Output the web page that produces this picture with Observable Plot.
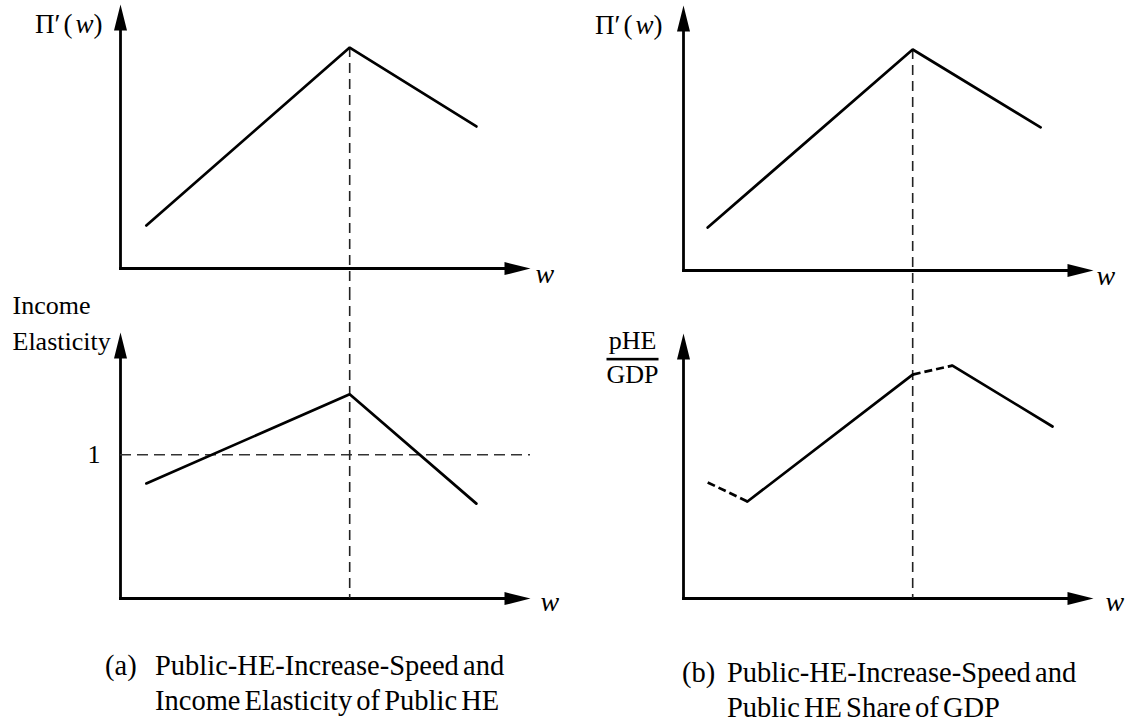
<!DOCTYPE html>
<html>
<head>
<meta charset="utf-8">
<script src="https://cdn.jsdelivr.net/npm/d3@7"></script>
<script src="https://cdn.jsdelivr.net/npm/@observablehq/plot@0.6"></script>
<style>
  html, body { margin: 0; padding: 0; background: #fff; }
  #fig { position: relative; width: 1128px; height: 724px; overflow: hidden;
         font-family: "Liberation Serif", "Times New Roman", serif; color: #000; }
  .panel { position: absolute; }
  .panel svg { overflow: visible; }
  .cap { position: absolute; font-size: 28.5px; line-height: 35px; word-spacing: -3px; white-space: nowrap; }
  .cap .tag { position: absolute; left: 0; top: 0; }
  .cap .body { position: absolute; top: 0; }
</style>
</head>
<body>
<div id="fig"></div>
<script>
// ---------------- DATA (schematic values) ----------------
const wMax = 10;                       // w axis runs 0..10 (arrow tip)
// (a) top: Π'(w)
const piA_w = [0.63, 5.59, 8.68];
const piA_v = [1.63, 8.37, 5.38];
// (b) top: Π'(w)
const piB_w = [0.59, 5.59, 8.71];
const piB_v = [1.62, 8.34, 5.40];
const piTop = 10;
// (a) bottom: income elasticity
const elastW = [0.63, 5.59, 8.68];
const elastV = [0.80, 1.42, 0.66];
const elastRef = 1;
const elastTop = 1.85;
const elastTickLabels = ["1"];
// (b) bottom: public HE share of GDP
const shareW = [0.59, 1.56, 5.59, 6.56, 9.00];
const shareV = [4.38, 3.66, 8.45, 8.79, 6.49];
const shareSeg = ["dashed", "solid", "dashed", "solid"];
const shareTop = 10;
// texts
const yLabelPi = "Π′(w)";
const xLabel = "w";
const yLabelElast = ["Income", "Elasticity"];
const yLabelShare = ["pHE", "GDP"];
const captionTags = ["(a)", "(b)"];
const captionLines = [
  ["Public-HE-Increase-Speed and", "Income Elasticity of Public HE"],
  ["Public-HE-Increase-Speed and", "Public HE Share of GDP"]
];

// ---------------- LAYOUT ----------------
const FONT = '"Liberation Serif", "Times New Roman", serif';
const PW = 564;
const xRange = [120, 530];
const topH = 290, botTop = 290, botH = 340;

const arrowHead = {
  draw(ctx) { ctx.moveTo(0, 0); ctx.lineTo(-26, -6.5); ctx.lineTo(-26, 6.5); ctx.closePath(); }
};

function axisMarks(yTop) {
  const ax = {stroke: "black", strokeWidth: 2.8, headLength: 0, insetEnd: 18, strokeLinecap: "square"};
  return [
    Plot.arrow([0], {x1: 0, y1: 0, x2: wMax, y2: 0, ...ax}),
    Plot.arrow([0], {x1: 0, y1: 0, x2: 0, y2: yTop, ...ax}),
    Plot.dot([0], {x: wMax, y: 0, symbol: arrowHead, rotate: 0, fill: "black", stroke: "none"}),
    Plot.dot([0], {x: 0, y: yTop, symbol: arrowHead, rotate: -90, fill: "black", stroke: "none"})
  ];
}
function label(str, opts) {
  return Plot.text([str], {text: d => d, fill: "black", fontSize: 26, ...opts});
}
function panel(height, yDomain, yRange, marks) {
  return Plot.plot({
    width: PW, height, margin: 0,
    x: {domain: [0, wMax], range: xRange, axis: null},
    y: {domain: yDomain, range: yRange, axis: null},
    style: {background: "transparent", fontFamily: FONT, overflow: "visible"},
    marks
  });
}
const dashV = {stroke: "#222", strokeWidth: 1.6, strokeDasharray: "10,6"};

function topPanel(ws, vs, yRange, piDx, wDx) {
  const data = ws.map((w, i) => ({w, v: vs[i]}));
  const pk = d3.maxIndex(vs);
  const yScale = d3.scaleLinear([0, piTop], yRange);
  return panel(topH, [0, piTop], yRange, [
    ...axisMarks(piTop),
    Plot.ruleX([ws[pk]], {y1: vs[pk], y2: yScale.invert(topH), ...dashV}),
    Plot.line(data, {x: "w", y: "v", stroke: "black", strokeWidth: 2.7, strokeLinejoin: "miter"}),
    label(yLabelPi, {x: 0, y: piTop, textAnchor: "end", dx: piDx, dy: 20, fontSize: 27}),
    label(xLabel, {x: wMax, y: 0, textAnchor: "start", dx: wDx, dy: 6, fontSize: 28, fontStyle: "italic"})
  ]);
}

function bottomA() {
  const yRange = [308, 42];
  const yScale = d3.scaleLinear([0, elastTop], yRange);
  const data = elastW.map((w, i) => ({w, v: elastV[i]}));
  const pk = d3.maxIndex(piA_v);
  return panel(botH, [0, elastTop], yRange, [
    ...axisMarks(elastTop),
    Plot.ruleY([elastRef], {x1: 0, x2: wMax, stroke: "#333", strokeWidth: 1.6, strokeDasharray: "11,6"}),
    Plot.ruleX([piA_w[pk]], {y1: yScale.invert(0), y2: 0, ...dashV}),
    Plot.line(data, {x: "w", y: "v", stroke: "black", strokeWidth: 2.7, strokeLinejoin: "miter"}),
    label(elastTickLabels[0], {x: 0, y: elastRef, textAnchor: "end", dx: -20}),
    label(yLabelElast[0], {x: 0, y: elastTop, textAnchor: "start", dx: -108, dy: -27}),
    label(yLabelElast[1], {x: 0, y: elastTop, textAnchor: "start", dx: -108, dy: 9}),
    label(xLabel, {x: wMax, y: 0, textAnchor: "start", dx: 10, dy: 3.5, fontSize: 28, fontStyle: "italic"})
  ]);
}

function bottomB() {
  const yRange = [308, 43];
  const yScale = d3.scaleLinear([0, shareTop], yRange);
  const segs = shareSeg.map((style, i) => ({
    x1: shareW[i], y1: shareV[i], x2: shareW[i + 1], y2: shareV[i + 1], style
  }));
  const pk = d3.maxIndex(piB_v);
  return panel(botH, [0, shareTop], yRange, [
    ...axisMarks(shareTop),
    Plot.ruleX([piB_w[pk]], {y1: yScale.invert(0), y2: 0, ...dashV}),
    Plot.link(segs.filter(d => d.style === "solid"),
      {x1: "x1", y1: "y1", x2: "x2", y2: "y2", stroke: "black", strokeWidth: 2.7, strokeLinecap: "round"}),
    Plot.link(segs.filter(d => d.style === "dashed"),
      {x1: "x1", y1: "y1", x2: "x2", y2: "y2", stroke: "black", strokeWidth: 2.7, strokeDasharray: "8,4"}),
    label(yLabelShare[0], {x: 0, y: shareTop, textAnchor: "middle", dx: -51, dy: 7}),
    label(yLabelShare[1], {x: 0, y: shareTop, textAnchor: "middle", dx: -51, dy: 41}),
    label(xLabel, {x: wMax, y: 0, textAnchor: "start", dx: 12, dy: 4, fontSize: 28, fontStyle: "italic"})
  ]);
}

function richify(svg) {
  d3.select(svg).selectAll("text").filter(function () { return this.textContent === yLabelPi; })
    .each(function () {
      const t = d3.select(this);
      t.text(null);
      t.append("tspan").text("Π′");
      t.append("tspan").attr("dx", 3).text("(");
      t.append("tspan").attr("dx", 3).attr("font-style", "italic").text("w");
      t.append("tspan").text(")");
    });
  d3.select(svg).selectAll("text").filter(function () { return this.textContent === yLabelShare[1]; })
    .attr("text-decoration", "overline").style("text-decoration", "overline");
  return svg;
}

const fig = document.getElementById("fig");
function place(svg, left, top) {
  const d = document.createElement("div");
  d.className = "panel";
  d.style.left = left + "px";
  d.style.top = top + "px";
  d.appendChild(richify(svg));
  fig.appendChild(d);
}
place(topPanel(piA_w, piA_v, [268, 4], -18, 5), 0, 0);
place(topPanel(piB_w, piB_v, [270, 5], -21, 3), 563, 0);
place(bottomA(), 0, botTop);
place(bottomB(), 563, botTop);

// captions
const capPos = [{left: 105, top: 648, indent: 50}, {left: 682, top: 655, indent: 45}];
captionTags.forEach((tag, i) => {
  const c = document.createElement("div");
  c.className = "cap";
  c.style.left = capPos[i].left + "px";
  c.style.top = capPos[i].top + "px";
  const t = document.createElement("span");
  t.className = "tag"; t.textContent = tag;
  const b = document.createElement("span");
  b.className = "body"; b.style.left = capPos[i].indent + "px";
  captionLines[i].forEach((ln, j) => {
    if (j) b.appendChild(document.createElement("br"));
    b.appendChild(document.createTextNode(ln));
  });
  c.appendChild(t); c.appendChild(b);
  fig.appendChild(c);
});
</script>
</body>
</html>
